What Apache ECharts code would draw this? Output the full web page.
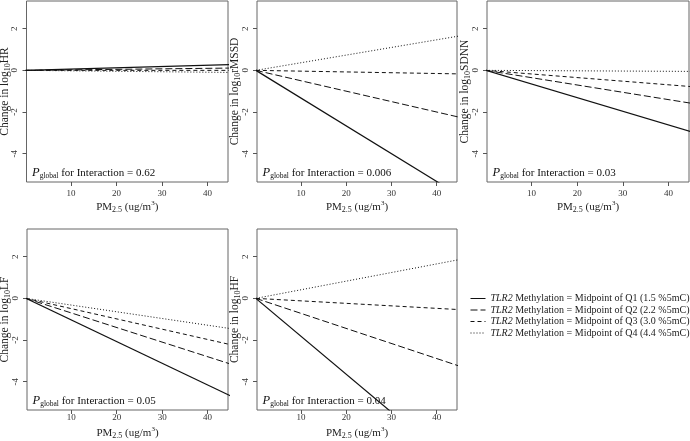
<!DOCTYPE html>
<html>
<head>
<meta charset="utf-8">
<script src="https://cdn.jsdelivr.net/npm/echarts@6/dist/echarts.min.js"></script>
<style>html,body{margin:0;padding:0;background:#fff}#c{width:690px;height:441px}</style>
</head>
<body>
<div id="c"></div>
<script>
// ---- data ----
const pmEnds = [0, 45];                       // PM2.5 range of the fitted lines (ug/m3)
const quartileNames = [
  'TLR2 Methylation = Midpoint of Q1 (1.5 %5mC)',
  'TLR2 Methylation = Midpoint of Q2 (2.2 %5mC)',
  'TLR2 Methylation = Midpoint of Q3 (3.0 %5mC)',
  'TLR2 Methylation = Midpoint of Q4 (4.4 %5mC)'
];
const outcomes = ['HR', 'rMSSD', 'SDNN', 'LF', 'HF'];
const pGlobal = ['0.62', '0.006', '0.03', '0.05', '0.04'];
// change at PM2.5 = 45 for Q1..Q4 (change is 0 at PM2.5 = 0)
const hrAt45    = [0.28, 0.11, 0.00, -0.10];
const rmssdAt45 = [-6.00, -2.25, -0.17, 1.65];
const sdnnAt45  = [-2.95, -1.58, -0.78, -0.05];
const lfAt45    = [-4.68, -3.15, -2.22, -1.45];
const hfAt45    = [-8.20, -3.25, -0.54, 1.86];
const xTicks = [10, 20, 30, 40];
const yTicks = [-4, -2, 0, 2];

const panelValues = [hrAt45, rmssdAt45, sdnnAt45, lfAt45, hfAt45];

// ---- layout ----
const FONT = '"Liberation Serif", "Times New Roman", serif';
const grids = [
  {left: 26.5, top: 1, width: 201.5, height: 181},
  {left: 257, top: 1, width: 200, height: 181},
  {left: 487, top: 1, width: 202, height: 181},
  {left: 27, top: 229, width: 201, height: 181},
  {left: 257, top: 229, width: 200, height: 181}
];
const lineTypes = ['solid', [7, 3], [4, 3], [1, 2]];

const chart = echarts.init(document.getElementById('c'), null, {renderer: 'canvas'});

const xAxes = [], yAxes = [], series = [], graphics = [];
grids.forEach((g, i) => {
  const bottomRow = i >= 3;
  xAxes.push({
    type: 'value', gridIndex: i, min: 0.25, max: 44.5,
    splitLine: {show: false},
    axisLine: {show: false, onZero: false},
    axisTick: {show: true, length: 4, lineStyle: {color: '#555'}, customValues: xTicks},
    axisLabel: {customValues: xTicks, fontFamily: FONT, fontSize: 9, color: '#333', margin: bottomRow ? 3 : 7},
    name: '{a|PM}{s|2.5}{a| (ug/m}{p|3}{a|)}',
    nameLocation: 'middle', nameGap: bottomRow ? 16 : 18, nameMoveOverlap: false,
    nameTextStyle: {
      rich: {
        a: {fontFamily: FONT, fontSize: 11, color: '#222', lineHeight: 14},
        s: {fontFamily: FONT, fontSize: 8, color: '#222', lineHeight: 9, verticalAlign: 'bottom'},
        p: {fontFamily: FONT, fontSize: 7, color: '#222', lineHeight: 8, verticalAlign: 'top'}
      }
    }
  });
  yAxes.push({
    type: 'value', gridIndex: i, min: -5.36, max: 3.33,
    splitLine: {show: false},
    axisLine: {show: false, onZero: false},
    axisTick: {show: true, length: 4, lineStyle: {color: '#555'}, customValues: yTicks},
    axisLabel: {customValues: yTicks, fontFamily: FONT, fontSize: 9, color: '#333', rotate: 90, margin: 7},
    name: '{a|Change in log}{s|10}{a|' + outcomes[i] + '}',
    nameLocation: 'middle', nameGap: 15, nameMoveOverlap: false,
    nameTextStyle: {
      rich: {
        a: {fontFamily: FONT, fontSize: 11.5, color: '#222', lineHeight: 14},
        s: {fontFamily: FONT, fontSize: 8, color: '#222', lineHeight: 9, verticalAlign: 'bottom'}
      }
    }
  });
  panelValues[i].forEach((v, q) => {
    series.push({
      type: 'line', name: quartileNames[q], xAxisIndex: i, yAxisIndex: i,
      data: [[pmEnds[0], 0], [pmEnds[1], v]],
      showSymbol: false, symbol: 'none', clip: true, animation: false,
      lineStyle: {color: '#111', width: q === 0 ? 1.2 : 1, type: lineTypes[q]},
      itemStyle: {color: '#111'},
      z: 5 - q
    });
  });
  graphics.push({
    type: 'text',
    x: g.left + 5.5, y: g.top + g.height - 9,
    style: {
      text: '{p|P}{g|global}{t| for Interaction = ' + pGlobal[i] + '}',
      verticalAlign: 'middle',
      rich: {
        p: {fontFamily: FONT, fontSize: 12.5, fontStyle: 'italic', fill: '#111', lineHeight: 14},
        g: {fontFamily: FONT, fontSize: 7.5, fill: '#111', lineHeight: 8, verticalAlign: 'bottom'},
        t: {fontFamily: FONT, fontSize: 11, fill: '#111', lineHeight: 14}
      }
    }
  });
});

chart.setOption({
  animation: false,
  grid: grids.map(g => Object.assign({show: true, borderColor: '#666', borderWidth: 1, backgroundColor: 'transparent', containLabel: false, outerBoundsMode: 'none'}, g)),
  xAxis: xAxes,
  yAxis: yAxes,
  series: series,
  legend: {
    data: quartileNames,
    orient: 'vertical', left: 470, top: 293.5, padding: 0,
    itemWidth: 15, itemHeight: 10, itemGap: 1.5,
    selectedMode: false,
    itemStyle: {opacity: 0},
    lineStyle: {width: 1},
    formatter: name => name.replace('TLR2', '{i|TLR2}{n|') + '}',
    textStyle: {
      fontFamily: FONT, fontSize: 10, color: '#222',
      rich: {
        i: {fontFamily: FONT, fontSize: 10, fontStyle: 'italic', color: '#222'},
        n: {fontFamily: FONT, fontSize: 10, color: '#222'}
      }
    }
  },
  graphic: graphics
});
</script>
</body>
</html>
